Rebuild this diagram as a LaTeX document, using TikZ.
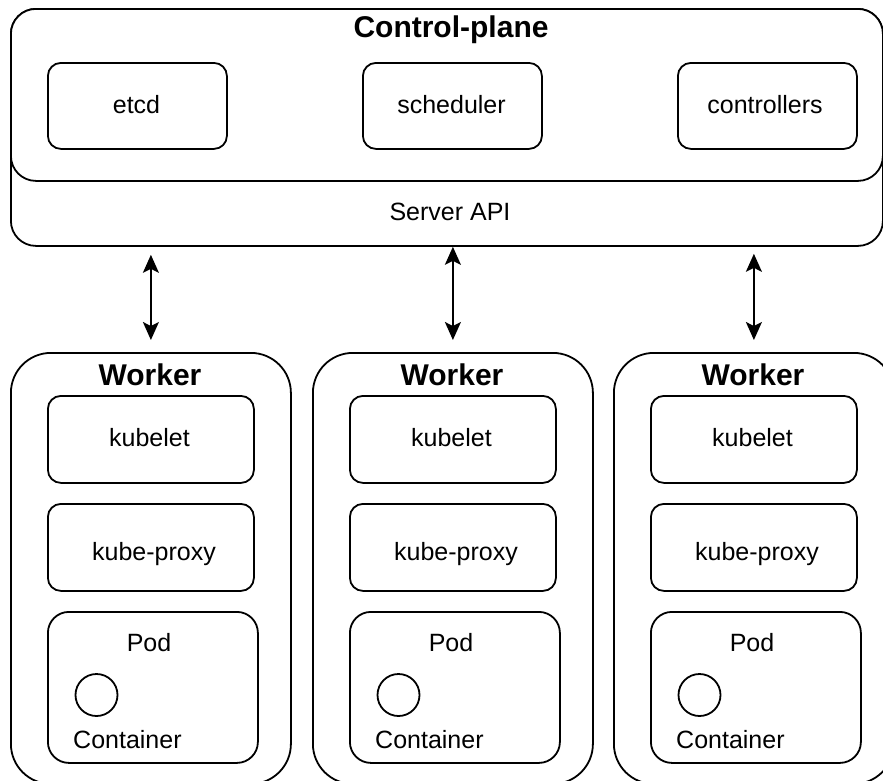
\documentclass[tikz,border=0pt]{standalone}
\usepackage{fontspec}
\setmainfont{Liberation Sans}
\usetikzlibrary{arrows.meta}

\tikzset{
  panel/.style={draw=black, line width=1.8pt, rounded corners=#1, inner sep=0pt, fill=white},
  panel/.default=13pt,
  lbl/.style={anchor=base, inner sep=0pt, font=\fontsize{25}{30}\selectfont},
  title/.style={anchor=base, inner sep=0pt, font=\fontsize{30}{36}\selectfont\bfseries},
  link/.style={line width=1.8pt, {Stealth[length=18pt,width=16pt,inset=4pt]}-{Stealth[length=18pt,width=16pt,inset=4pt]}},
  dot/.style={draw=black, line width=1.8pt, circle, minimum size=42pt, inner sep=0pt}
}

\begin{document}
\begin{tikzpicture}[x=1pt, y=-1pt]
  \useasboundingbox (0,0) rectangle (883,780);
  \clip (0,0) rectangle (883,780);

  % control plane with the API band underneath
  \node[panel=25pt, anchor=north west, minimum width=872pt, minimum height=237pt] (cp) at (10,8) {};
  \node[panel=25pt, anchor=north west, minimum width=872pt, minimum height=172pt] (core) at (10,8) {};
  \node[title] (cptitle) at (451,37) {Control-plane};
  \node[lbl] (api) at (450,220) {Server API};

  \node[panel, anchor=north west, minimum width=179pt, minimum height=86pt] (etcd) at (47,62) {};
  \node[panel, anchor=north west, minimum width=179pt, minimum height=86pt] (sched) at (362,62) {};
  \node[panel, anchor=north west, minimum width=179pt, minimum height=86pt] (ctrl) at (677,62) {};
  \node[lbl] at (136.5,113) {etcd};
  \node[lbl] at (451.5,113) {scheduler};
  \node[lbl] at (765,113) {controllers};

  % worker nodes
  \foreach \i/\L in {1/10, 2/312, 3/613} {
    \node[panel=40pt, anchor=north west, minimum width=280pt, minimum height=431pt] (w\i) at (\L,352) {};
    \node[title] (wt\i) at (\L+140,385) {Worker};
    \node[panel, anchor=north west, minimum width=206pt, minimum height=87pt] (kl\i) at (\L+37,395) {};
    \node[lbl] at (\L+139.5,446) {kubelet};
    \node[panel, anchor=north west, minimum width=206pt, minimum height=87pt] (kp\i) at (\L+37,503) {};
    \node[lbl] at (\L+144,560) {kube-proxy};
    \node[panel=21pt, anchor=north west, minimum width=210pt, minimum height=151pt] (pod\i) at (\L+37,611) {};
    \node[lbl] at (\L+139,651) {Pod};
    \node[dot] (c\i) at (\L+86.5,695) {};
    \node[lbl, anchor=base west] at (\L+63,748) {Container};
  }

  % links between the API and each worker
  \draw[link, shorten <=8pt, shorten >=12pt] (w1.north |- cp.south) -- (w1.north);
  \draw[link, shorten >=12pt] (w2.north |- cp.south) -- (w2.north);
  \draw[link, shorten <=7pt, shorten >=12pt] (w3.north |- cp.south) -- (w3.north);
\end{tikzpicture}
\end{document}
